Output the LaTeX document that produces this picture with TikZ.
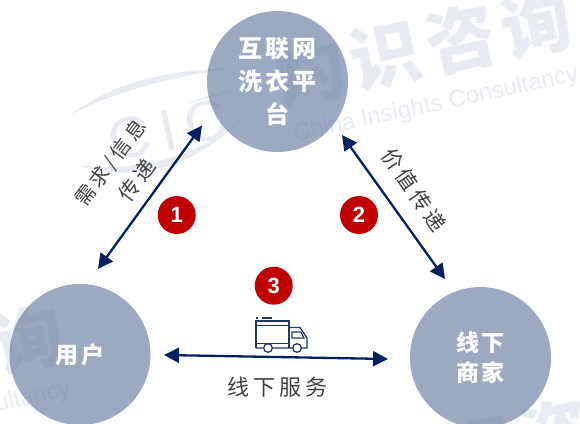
\documentclass[tikz,border=0pt]{standalone}
\usepackage{fontspec}
\setmainfont{Liberation Sans}
\newfontfamily\cjk[LetterSpace=18]{Noto Sans CJK SC}
\newfontfamily\cjktight[LetterSpace=12]{Noto Sans CJK SC}
\newfontfamily\cjkplain{Noto Sans CJK SC}
\usetikzlibrary{arrows.meta}
\definecolor{navy}{HTML}{002060}
\definecolor{trucknavy}{HTML}{1F3864}
\definecolor{disc}{HTML}{5C7098}
\definecolor{wm}{HTML}{7F96B5}
\definecolor{badgered}{HTML}{C00000}
\definecolor{labelgrey}{HTML}{404040}
\tikzset{
  party/.style={circle,fill=disc,fill opacity=.6,text opacity=1,text=white,minimum size=141pt,inner sep=0pt,align=center,font=\cjktight\bfseries\fontsize{24}{33}\selectfont},
  link/.style={draw=navy,line width=2.3pt,{Triangle[length=15pt,width=15pt]}-{Triangle[length=15pt,width=15pt]}},
  badge/.style={circle,fill=badgered,text=white,minimum size=38pt,inner sep=0pt,font=\bfseries\fontsize{22}{24}\selectfont},
  linklabel/.style={text=labelgrey,font=\cjk\fontsize{21}{28}\selectfont,inner sep=0pt},
  wmbig/.style={text=wm,rotate=12,inner sep=0pt,font=\cjkplain\bfseries\fontsize{70}{70}\selectfont},
  wmsmall/.style={text=wm,rotate=12,inner sep=0pt,font=\fontsize{24}{24}\selectfont},
  wmcic/.style={text=wm,rotate=12,inner sep=0pt,font=\fontsize{58}{58}\selectfont},
  truckline/.style={draw=trucknavy,line width=1.3pt}
}
\begin{document}
\begin{tikzpicture}[x=1pt,y=-1pt]
\useasboundingbox (0,0) rectangle (580,423);
\clip (0,0) rectangle (580,423);
% watermark, three repeats
\begin{scope}[opacity=.18,transparency group]
\foreach \dx/\dy in {0/0,-508/315,94/395}{
  \begin{scope}[shift={(\dx pt,-\dy pt)}]
    \node[wmbig] (wmA\dx) at (310,71) {灼};
    \node[wmbig] (wmB\dx) at (385,55) {识};
    \node[wmbig] (wmC\dx) at (461,39) {咨};
    \node[wmbig] (wmD\dx) at (536,24) {询};
    \node[wmsmall] (wmE\dx) at (436,105) {China Insights Consultancy};
    \node[wmcic] (wmF\dx) at (168,130) {C\,I\,C};
    \fill[wm] (70,115) .. controls (110,85) and (160,70) .. (232,68) .. controls (165,78) and (115,92) .. (70,115);
    \fill[wm] (77,165) .. controls (130,182) and (190,172) .. (240,120) .. controls (195,160) and (130,172) .. (77,165);
    \fill[wm] (187,104) .. controls (200,97) and (215,93) .. (240,90) .. controls (215,97) and (200,100) .. (187,104);
  \end{scope}
}
\end{scope}
% parties
\node[party] (platform) at (277.5,81.5) {互联网\\洗衣平\\台};
\node[party,font=\cjktight\bfseries\fontsize{23}{30}\selectfont] (user) at (80,354.5) {用户};
\node[party,font=\cjktight\bfseries\fontsize{23}{30}\selectfont] (shop) at (480.5,357.5) {线下\\商家};
% connector ends
\coordinate (a1) at (98,269);
\coordinate (a2) at (202,125.5);
\coordinate (b1) at (342,135);
\coordinate (b2) at (445,279);
\coordinate (c1) at (164,355);
\coordinate (c2) at (388,359);
\draw[link] (a1) -- (a2);
\draw[link] (b1) -- (b2);
\draw[link] (c1) -- (c2);
% badges
\node[badge] (n1) at (176.7,215) {1};
\node[badge] (n2) at (359,215) {2};
\node[badge] (n3) at (273.7,285.7) {3};
% labels
\node[linklabel,rotate=53,font=\cjk\fontsize{20}{28}\selectfont] (l1a) at (111,163) {需求/信息};
\node[linklabel,rotate=53] (l1b) at (137,180) {传递};
\node[linklabel,rotate=-55] (l2) at (414,190) {价值传递};
\node[linklabel,font=\cjk\fontsize{22}{28}\selectfont] (l3) at (277.5,387) {线下服务};
% truck
\draw[truckline] (256,348) -- (256,321) -- (289,321) -- (289,348);
\draw[truckline] (256,325.5) -- (289,325.5);
\draw[truckline] (256,343.5) -- (289,343.5);
\draw[truckline] (256,348) -- (263,348) (273,348) -- (292,348) (302,348) -- (307,348) -- (307,338) -- (300,327.5) -- (289,327.5);
\draw[truckline] (292,332) -- (301,332) -- (304,338) -- (292,338) -- cycle;
\draw[truckline] (268,348) circle (4.3);
\draw[truckline] (297,348) circle (4.3);
\draw[truckline] (256,318) -- (258,318) (262,318) -- (272,318);
\end{tikzpicture}
\end{document}
